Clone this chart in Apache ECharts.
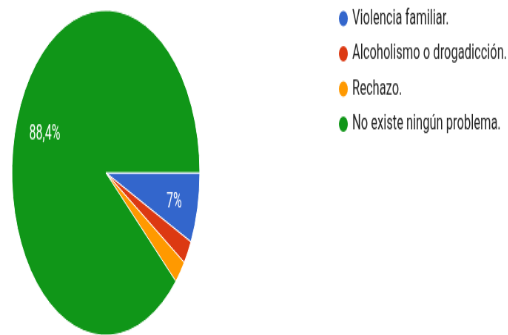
<!DOCTYPE html>
<html>
<head>
<meta charset="utf-8">
<script src="https://cdn.jsdelivr.net/npm/echarts@6/dist/echarts.min.js"></script>
<style>
  html, body { margin: 0; padding: 0; background: #fff; overflow: hidden; }
  #wrap { width: 508px; height: 335px; overflow: hidden; }
  /* the reference is a stretched screenshot: draw a round pie, then squeeze it */
  #chart { width: 687px; height: 262px; transform: scale(0.74, 1.28); transform-origin: 0 0; }
</style>
</head>
<body>
<div id="wrap"><div id="chart"></div></div>
<script>
var categories = ['Violencia familiar.', 'Alcoholismo o drogadicción.', 'Rechazo.', 'No existe ningún problema.'];
var counts = [3, 1, 1, 38];
var colors = ['#3366cc', '#dc3912', '#ff9900', '#109618'];

var pieData = categories.map(function (name, i) {
  return { name: name, value: counts[i] };
});

function pctLabel(p) {
  if (p.percent < 5) return '';
  return String(parseFloat(p.percent.toFixed(1))).replace('.', ',') + '%';
}

var myChart = echarts.init(document.getElementById('chart'));
var option = {
  animation: false,
  color: colors,
  legend: {
    orient: 'vertical',
    left: 451,
    top: 1,
    icon: 'circle',
    itemWidth: 14,
    itemHeight: 14,
    itemGap: 10.5,
    textStyle: { fontFamily: 'Roboto', fontSize: 16.5, color: '#222' },
    data: categories
  },
  series: [
    {
      type: 'pie',
      center: [143, 135],
      radius: 127,
      startAngle: 0,
      clockwise: true,
      percentPrecision: 1,
      label: { show: false },
      labelLine: { show: false },
      itemStyle: { borderColor: '#fff', borderWidth: 1 },
      emphasis: { disabled: true },
      data: pieData
    },
    {
      // label-only ring so the percentages sit further out, like the reference
      type: 'pie',
      silent: true,
      center: [143, 135],
      radius: [50, 127],
      startAngle: 0,
      clockwise: true,
      percentPrecision: 1,
      itemStyle: { color: 'rgba(0,0,0,0)' },
      label: {
        show: true,
        position: 'inside',
        formatter: pctLabel,
        offset: [3, 3],
        color: '#fff',
        fontFamily: 'Roboto',
        fontSize: 16
      },
      labelLine: { show: false },
      emphasis: { disabled: true },
      legendHoverLink: false,
      data: pieData
    }
  ]
};
myChart.setOption(option);
</script>
</body>
</html>
